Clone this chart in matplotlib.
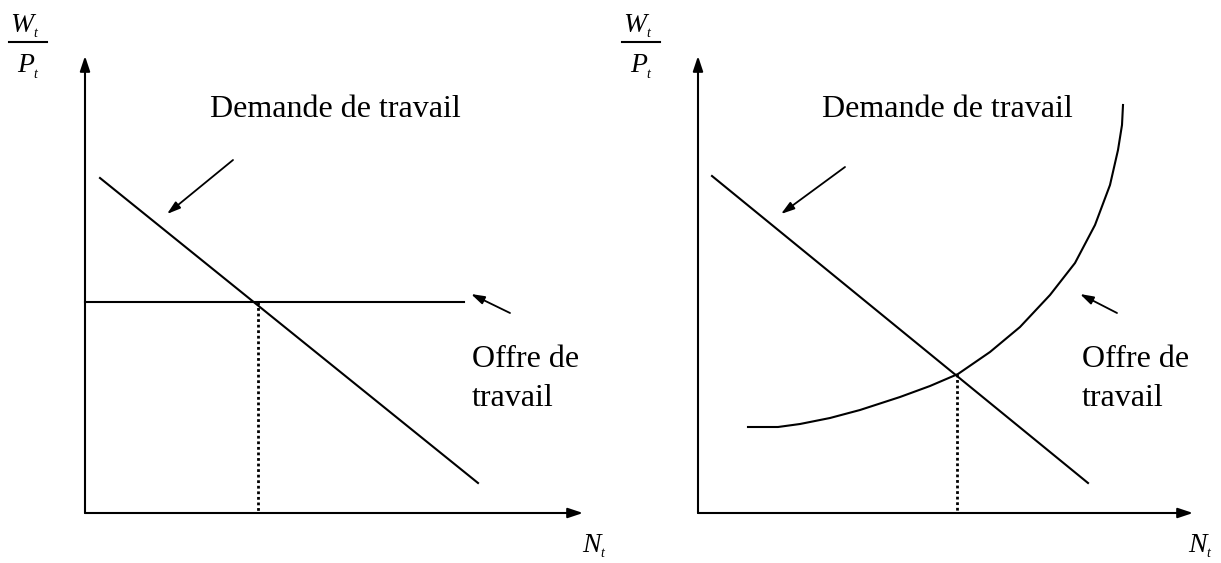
import matplotlib
matplotlib.use("Agg")
import matplotlib.pyplot as plt

# ---- data (figure pixel coordinates, y grows downward) ----
# Left panel
L_origin = (85, 513)
L_xaxis_end = (583, 513)
L_yaxis_end = (85, 56)
L_demand_x = [100, 478]
L_demand_y = [178, 483]
L_supply_x = [85, 464]
L_supply_y = [302, 302]
L_eq_x = 258
L_eq_y = 302

# Right panel
R_origin = (698, 513)
R_xaxis_end = (1193, 513)
R_yaxis_end = (698, 56)
R_demand_x = [712, 1088]
R_demand_y = [176, 483]
R_supply_x = [748, 778, 800, 830, 860, 900, 930, 958, 990, 1020, 1050, 1075, 1095, 1110, 1118, 1122, 1123]
R_supply_y = [427, 427, 424, 418, 410, 397, 386, 374, 352, 327, 295, 263, 225, 185, 150, 125, 105]
R_eq_x = 957
R_eq_y = 374

# label arrows: (start, end)
L_dem_arrow = ((233, 160), (167, 214))
L_sup_arrow = ((510, 313), (471, 294))
R_dem_arrow = ((845, 167), (781, 214))
R_sup_arrow = ((1117, 313), (1080, 294))

label_demand = "Demande de travail"
label_supply_1 = "Offre de"
label_supply_2 = "travail"

fig = plt.figure(figsize=(12.21, 5.63), dpi=100)
ax = fig.add_axes([0, 0, 1, 1])
ax.set_xlim(0, 1221)
ax.set_ylim(563, 0)
ax.axis("off")

serif = "Liberation Serif"
lw = 1.5
fs = 23

def axis_arrow(start, end):
    ax.annotate("", xy=end, xytext=start,
                arrowprops=dict(arrowstyle="-|>,head_length=0.9,head_width=0.3",
                                color="black", lw=lw, shrinkA=0, shrinkB=0))

def label_arrow(start, end):
    ax.annotate("", xy=end, xytext=start,
                arrowprops=dict(arrowstyle="-|>,head_length=0.8,head_width=0.25",
                                color="black", lw=1.3, shrinkA=0, shrinkB=0))

def frac_label(x, y):
    # W_t / P_t
    ax.text(x + 1, y + 32, "W", fontfamily=serif, fontstyle="italic", fontsize=20,
            ha="left", va="baseline")
    ax.text(x + 24, y + 37, "t", fontfamily=serif, fontstyle="italic", fontsize=10,
            ha="left", va="baseline")
    ax.plot([x, x + 38], [y + 42, y + 42], color="black", lw=1.5)
    ax.text(x + 8, y + 72, "P", fontfamily=serif, fontstyle="italic", fontsize=20,
            ha="left", va="baseline")
    ax.text(x + 24, y + 78, "t", fontfamily=serif, fontstyle="italic", fontsize=10,
            ha="left", va="baseline")

def n_label(x, y):
    ax.text(x, y, "N", fontfamily=serif, fontstyle="italic", fontsize=20,
            ha="left", va="baseline")
    ax.text(x + 18, y + 5, "t", fontfamily=serif, fontstyle="italic", fontsize=10,
            ha="left", va="baseline")

# Left panel
axis_arrow(L_origin, L_xaxis_end)
axis_arrow(L_origin, L_yaxis_end)
ax.plot(L_demand_x, L_demand_y, color="black", lw=lw)
ax.plot(L_supply_x, L_supply_y, color="black", lw=lw)
ax.plot([L_eq_x, L_eq_x], [L_eq_y, L_origin[1]], color="black", lw=2,
        linestyle=(0, (1, 1)))
label_arrow(*L_dem_arrow)
label_arrow(*L_sup_arrow)
ax.text(210, 117, label_demand, fontfamily=serif, fontsize=fs, ha="left", va="baseline")
ax.text(472, 367, label_supply_1, fontfamily=serif, fontsize=fs, ha="left", va="baseline")
ax.text(472, 406, label_supply_2, fontfamily=serif, fontsize=fs, ha="left", va="baseline")
frac_label(9, 0)
n_label(582, 552)

# Right panel
axis_arrow(R_origin, R_xaxis_end)
axis_arrow(R_origin, R_yaxis_end)
ax.plot(R_demand_x, R_demand_y, color="black", lw=lw)
ax.plot(R_supply_x, R_supply_y, color="black", lw=lw)
ax.plot([R_eq_x, R_eq_x], [R_eq_y, R_origin[1]], color="black", lw=2,
        linestyle=(0, (1, 1)))
label_arrow(*R_dem_arrow)
label_arrow(*R_sup_arrow)
ax.text(822, 117, label_demand, fontfamily=serif, fontsize=fs, ha="left", va="baseline")
ax.text(1082, 367, label_supply_1, fontfamily=serif, fontsize=fs, ha="left", va="baseline")
ax.text(1082, 406, label_supply_2, fontfamily=serif, fontsize=fs, ha="left", va="baseline")
frac_label(622, 0)
n_label(1188, 552)

fig.savefig("out.png", dpi=100)
